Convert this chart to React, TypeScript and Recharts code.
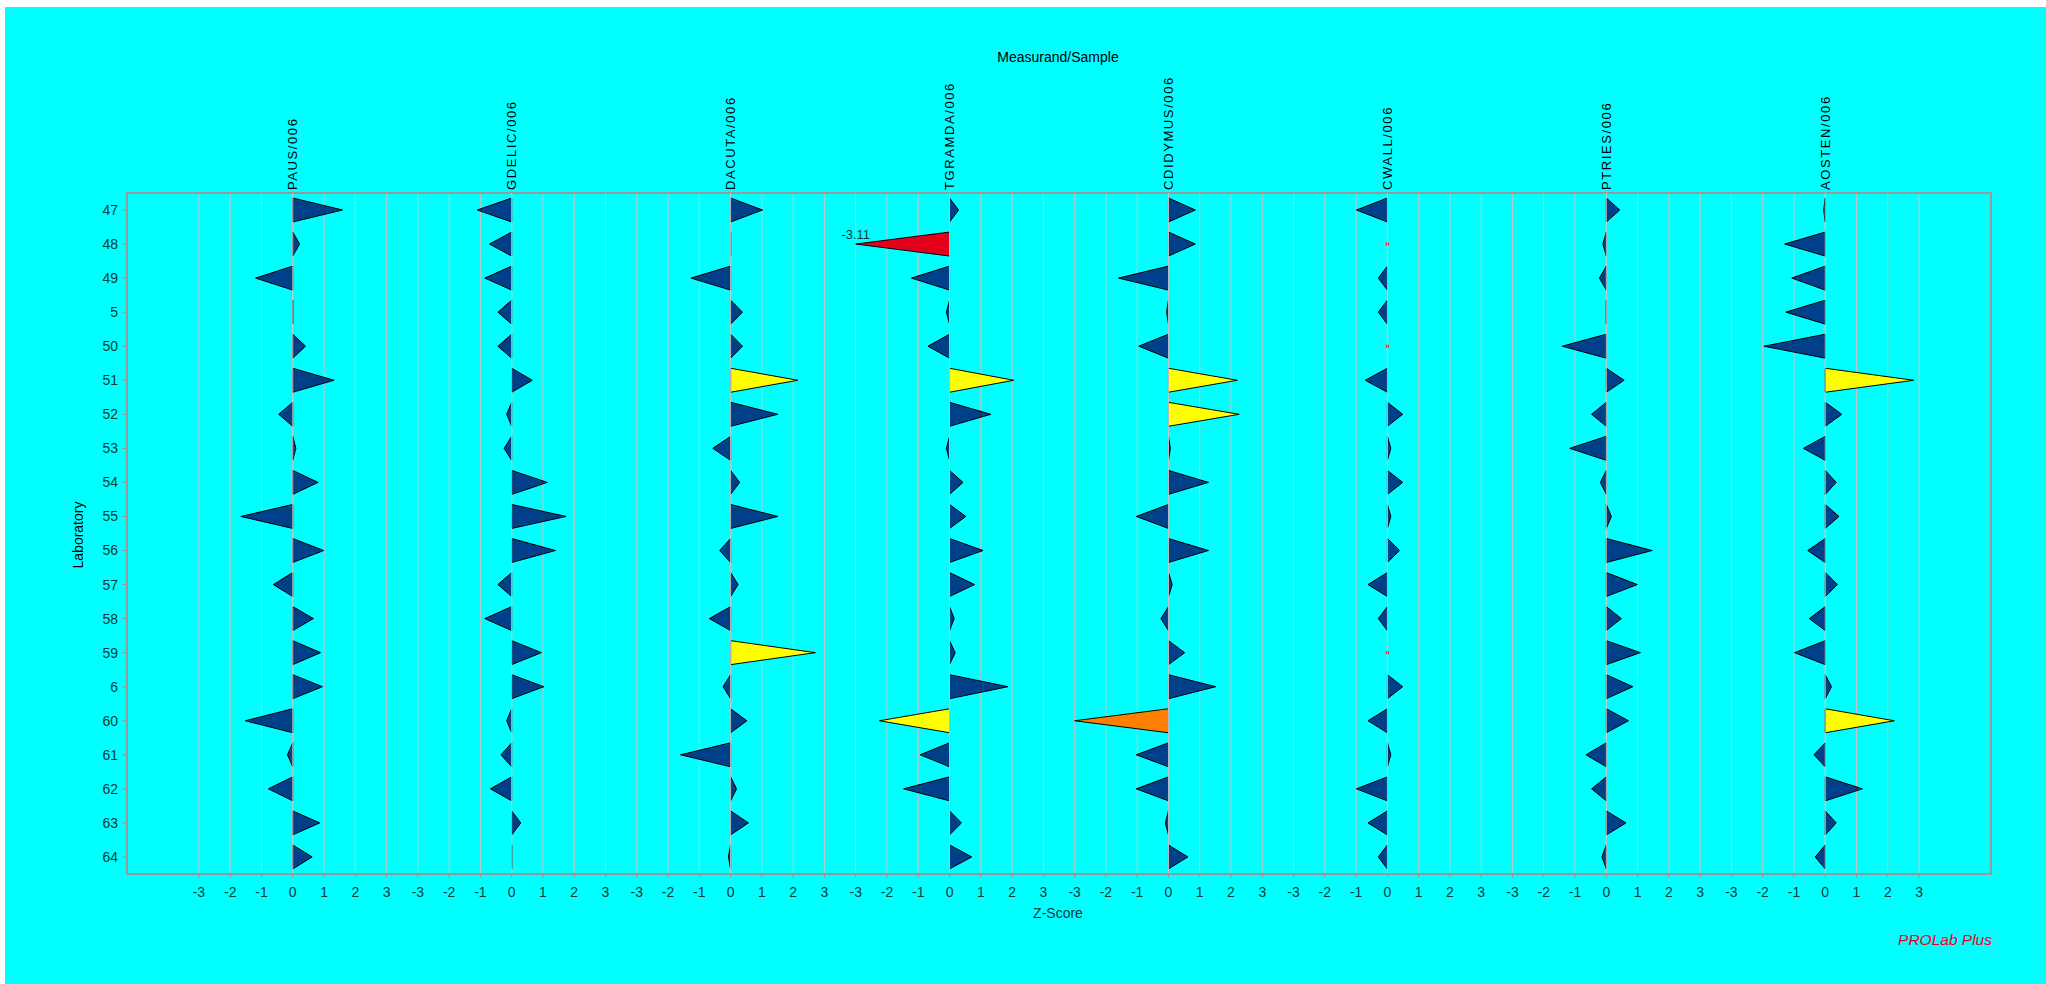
import React from 'react';
import { ComposedChart, Bar, XAxis, YAxis, CartesianGrid, ReferenceLine, ReferenceArea } from 'recharts';

// ---------- data ----------
const labs = ['47', '48', '49', '5', '50', '51', '52', '53', '54', '55', '56', '57', '58', '59', '6', '60', '61', '62', '63', '64'];
const measurands = ['PAUS/006', 'GDELIC/006', 'DACUTA/006', 'TGRAMDA/006', 'CDIDYMUS/006', 'CWALL/006', 'PTRIES/006', 'AOSTEN/006'];
const zTicks = [-3, -2, -1, 0, 1, 2, 3];

const pausZ = [1.59, 0.22, -1.19, 0.0, 0.41, 1.32, -0.45, 0.1, 0.81, -1.66, 0.99, -0.62, 0.66, 0.89, 0.95, -1.52, -0.17, -0.78, 0.86, 0.62];
const gdelicZ = [-1.1, -0.71, -0.86, -0.44, -0.44, 0.66, -0.16, -0.24, 1.14, 1.74, 1.4, -0.44, -0.86, 0.95, 1.03, -0.16, -0.34, -0.68, 0.29, 0.0];
const dacutaZ = [1.02, 0.0, -1.27, 0.38, 0.38, 2.15, 1.51, -0.57, 0.29, 1.51, -0.35, 0.24, -0.68, 2.71, -0.24, 0.52, -1.6, 0.19, 0.57, -0.07];
const tgramdaZ = [0.29, -3.11, -1.22, -0.1, -0.69, 2.05, 1.32, -0.1, 0.43, 0.52, 1.07, 0.8, 0.15, 0.18, 1.87, -2.24, -0.94, -1.47, 0.38, 0.71];
const cdidymusZ = [0.86, 0.86, -1.6, -0.06, -0.95, 2.2, 2.26, 0.06, 1.28, -1.03, 1.28, 0.12, -0.24, 0.52, 1.51, -3.0, -1.03, -1.03, -0.1, 0.62];
const cwallZ = [-0.99, null, -0.29, -0.29, null, -0.71, 0.49, 0.11, 0.49, 0.11, 0.39, -0.62, -0.29, null, 0.49, -0.62, 0.11, -0.99, -0.62, -0.29];
const ptriesZ = [0.43, -0.11, -0.22, 0.0, -1.41, 0.57, -0.47, -1.17, -0.19, 0.16, 1.47, 0.99, 0.48, 1.09, 0.85, 0.71, -0.65, -0.47, 0.63, -0.14];
const aostenZ = [-0.05, -1.3, -1.07, -1.26, -1.96, 2.83, 0.53, -0.7, 0.35, 0.44, -0.56, 0.39, -0.51, -0.98, 0.2, 2.21, -0.36, 1.19, 0.35, -0.32];

const seriesZ: (number | null)[][] = [pausZ, gdelicZ, dacutaZ, tgramdaZ, cdidymusZ, cwallZ, ptriesZ, aostenZ];

// ---------- layout constants ----------
const PANEL_STEP = 7; // axis units between panel zero lines
const Z_LIMIT = 3;
const X_DOMAIN: [number, number] = [-5.3, 54.3];

const FONT = '"Liberation Sans", Arial, sans-serif';
const TEXT_COLOR = '#0d3a3a';
const BORDER = '#999999';
const GRID = '#c4c4c4';

const colorFor = (z: number) => {
  const a = Math.abs(z);
  if (a > 3.05) return '#e4001b';
  if (a >= 2.95) return '#ff8000';
  if (a >= 2) return '#ffff00';
  return '#003f8a';
};

// build chart rows
const data = labs.map((lab, i) => {
  const row: any = { lab };
  seriesZ.forEach((arr, p) => {
    const z = arr[i];
    const base = p * PANEL_STEP;
    row[`z${p}`] = z;
    if (z === null || z === undefined) {
      row[`p${p}`] = [base, base];
    } else {
      const zd = Math.max(-Z_LIMIT, Math.min(Z_LIMIT, z));
      row[`p${p}`] = [base, base + zd];
    }
  });
  return row;
});

const bottomTicks: number[] = [];
measurands.forEach((_, p) => zTicks.forEach((t) => bottomTicks.push(p * PANEL_STEP + t)));

const fmtBottom = (v: number) => {
  const r = Math.round(v - PANEL_STEP * Math.round(v / PANEL_STEP));
  return String(r === 0 ? 0 : r);
};

const makeShape = (p: number) => (props: any) => {
  const { x, y, width, height, payload } = props;
  const z = payload[`z${p}`];
  const midY = y + height / 2;
  if (z === null || z === undefined) {
    return <rect x={x - 1.5} y={midY - 1.5} width={3} height={3} fill="#ff0000" />;
  }
  const xa = x;
  const xb = x + width;
  const base = z >= 0 ? Math.min(xa, xb) : Math.max(xa, xb);
  const apex = z >= 0 ? Math.max(xa, xb) : Math.min(xa, xb);
  const out = Math.abs(z) > Z_LIMIT + 0.05;
  return (
    <g>
      <polygon
        points={`${base},${y} ${base},${y + height} ${apex},${midY}`}
        fill={colorFor(z)}
        stroke="#000"
        strokeWidth={1}
      />
      {out && (
        <text x={apex} y={midY - 5} textAnchor="middle" fontSize={13} fontFamily={FONT} fill={TEXT_COLOR}>
          {z.toFixed(2)}
        </text>
      )}
    </g>
  );
};

const makeHeader = (name: string) => (props: any) => {
  const vb = props.viewBox || {};
  const x = vb.x;
  const y = vb.y - 3;
  return (
    <text
      x={x}
      y={y}
      dy={4.6}
      transform={`rotate(-90, ${x}, ${y})`}
      textAnchor="start"
      fontSize={13}
      letterSpacing={1.6}
      fontFamily={FONT}
      fill="#000"
    >
      {name}
    </text>
  );
};

export default function App() {
  return (
    <div>
      <div
        style={{
          position: 'absolute',
          left: 5,
          top: 7,
          width: 2041,
          height: 977,
          background: '#00ffff',
        }}
      />
      <div style={{ position: 'absolute', left: 0, top: 0, width: 2046, height: 984 }}>
        <ComposedChart
          width={2046}
          height={984}
          data={data}
          layout="vertical"
          margin={{ top: 193, right: 55, left: 67, bottom: 80 }}
        >
          <CartesianGrid vertical horizontal={false} stroke={GRID} strokeWidth={1} />
          <XAxis
            type="number"
            domain={X_DOMAIN}
            ticks={bottomTicks}
            interval={0}
            allowDataOverflow
            tickFormatter={fmtBottom}
            height={30}
            tickSize={4}
            tickMargin={9}
            tickLine={{ stroke: BORDER }}
            axisLine={{ stroke: BORDER, strokeWidth: 2 }}
            tick={{ fontSize: 14, fill: TEXT_COLOR, fontFamily: FONT }}
          />
          <YAxis
            type="category"
            dataKey="lab"
            width={60}
            tickSize={5}
            tickMargin={4}
            tickLine={{ stroke: BORDER }}
            axisLine={{ stroke: BORDER, strokeWidth: 2 }}
            interval={0}
            tick={{ fontSize: 14, fill: TEXT_COLOR, fontFamily: FONT }}
          />
          {measurands.map((m, p) =>
            p === 0 ? null : (
              <YAxis key={`ya${p}`} yAxisId={`y${p}`} type="category" dataKey="lab" hide />
            )
          )}
          <ReferenceArea
            x1={X_DOMAIN[0]}
            x2={X_DOMAIN[1]}
            y1={labs[0]}
            y2={labs[labs.length - 1]}
            fill="none"
            fillOpacity={0}
            stroke={BORDER}
            strokeWidth={2}
            ifOverflow="visible"
          />
          {measurands.map((m, p) => (
            <ReferenceLine
              key={`hdr${p}`}
              x={p * PANEL_STEP}
              stroke={GRID}
              ifOverflow="visible"
              label={{ content: makeHeader(m) }}
            />
          ))}
          {measurands.map((m, p) => (
            <Bar
              key={m}
              dataKey={`p${p}`}
              yAxisId={p === 0 ? 0 : `y${p}`}
              barSize={24}
              shape={makeShape(p)}
              isAnimationActive={false}
            />
          ))}
        </ComposedChart>
      </div>
      <div
        style={{
          position: 'absolute',
          left: 1058,
          top: 57,
          transform: 'translate(-50%, -50%)',
          fontFamily: FONT,
          fontSize: 14,
          color: '#000',
          whiteSpace: 'nowrap',
        }}
      >
        Measurand/Sample
      </div>
      <div
        style={{
          position: 'absolute',
          left: 78,
          top: 535,
          transform: 'translate(-50%, -50%) rotate(-90deg)',
          fontFamily: FONT,
          fontSize: 14,
          color: '#000',
          whiteSpace: 'nowrap',
        }}
      >
        Laboratory
      </div>
      <div
        style={{
          position: 'absolute',
          left: 1058,
          top: 913,
          transform: 'translate(-50%, -50%)',
          fontFamily: FONT,
          fontSize: 14,
          color: TEXT_COLOR,
          whiteSpace: 'nowrap',
        }}
      >
        Z-Score
      </div>
      <div
        style={{
          position: 'absolute',
          right: 2046 - 1992,
          top: 940,
          transform: 'translateY(-50%)',
          fontFamily: FONT,
          fontSize: 15.5,
          fontStyle: 'italic',
          color: '#e8001c',
          whiteSpace: 'nowrap',
        }}
      >
        PROLab Plus
      </div>
    </div>
  );
}
